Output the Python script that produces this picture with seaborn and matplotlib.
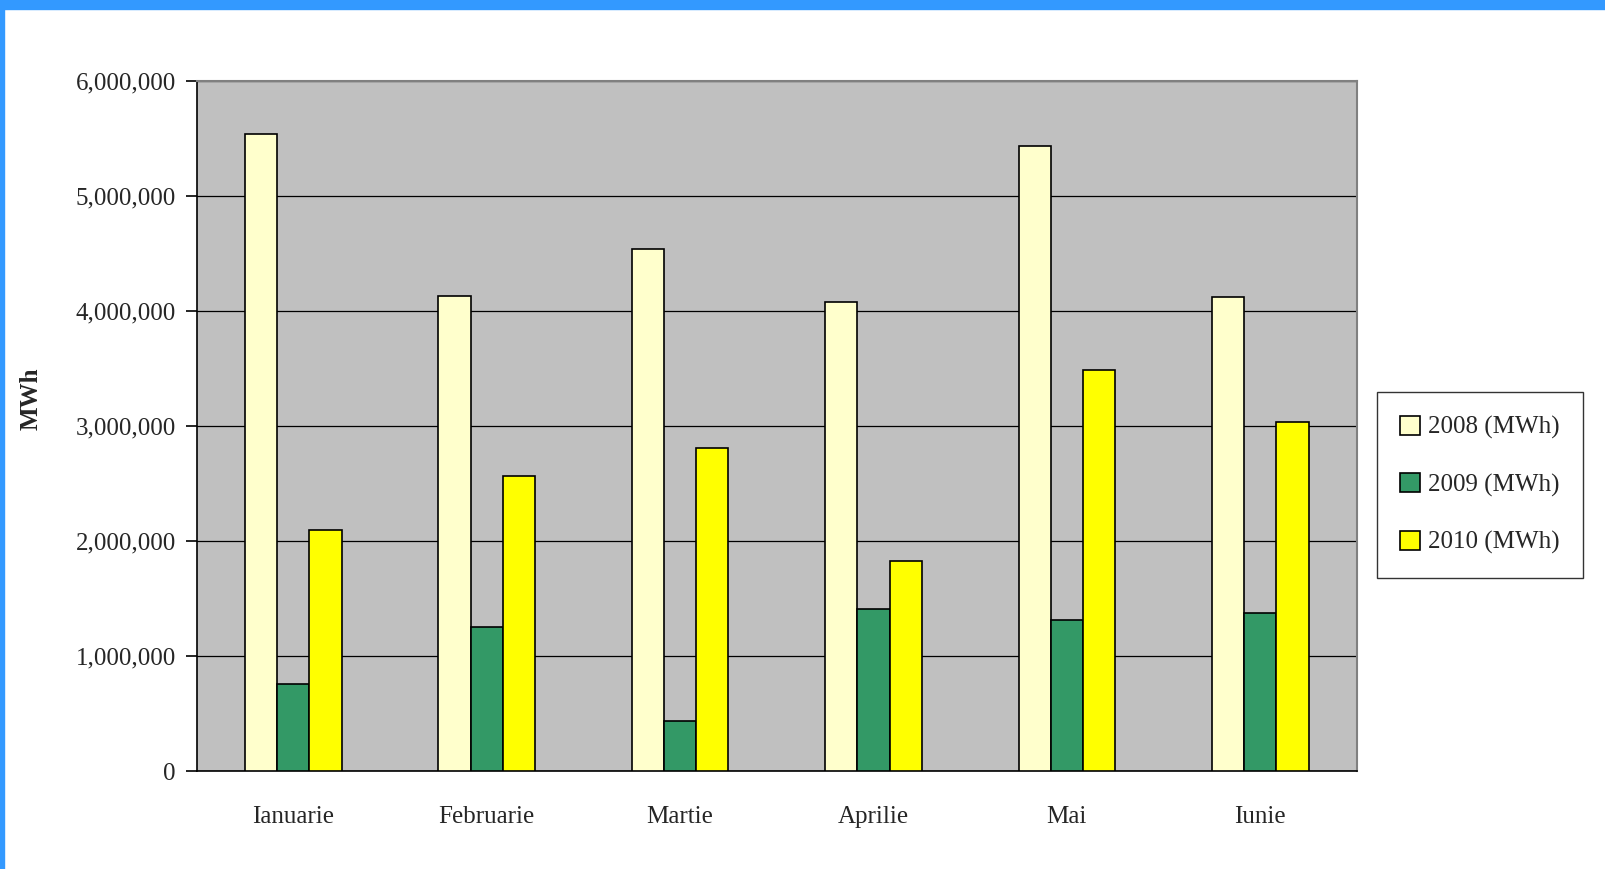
import pandas as pd
import matplotlib.pyplot as plt
import seaborn as sns
from matplotlib.patches import Rectangle
from matplotlib.ticker import FuncFormatter

months = ["Ianuarie", "Februarie", "Martie", "Aprilie", "Mai", "Iunie"]
series = ["2008 (MWh)", "2009 (MWh)", "2010 (MWh)"]
v2008 = [5537000, 4131000, 4540000, 4077000, 5439000, 4122000]
v2009 = [757000, 1255000, 436000, 1407000, 1309000, 1371000]
v2010 = [2092000, 2564000, 2813000, 1825000, 3490000, 3036000]
colors = ["#FFFFCC", "#339966", "#FFFF00"]

df = pd.DataFrame({"Luna": months, series[0]: v2008, series[1]: v2009, series[2]: v2010})
df_melted = df.melt(id_vars=["Luna"], value_vars=series, var_name="Serie", value_name="MWh")

sns.set_style("white")
plt.rcParams['font.family'] = ['Liberation Serif', 'DejaVu Serif']

fig = plt.figure(figsize=(16.05, 8.69), dpi=100)
ax = fig.add_axes([196.5 / 1605, 1 - 771 / 869, (1357 - 196.5) / 1605, (771 - 81) / 869])
ax.set_facecolor("#C0C0C0")

sns.barplot(data=df_melted, x="Luna", y="MWh", hue="Serie", palette=colors, saturation=1,
            width=0.5, edgecolor="black", linewidth=1.2, ax=ax, zorder=3)

ax.set_ylim(0, 6000000)
ax.set_xlim(-0.5, 5.5)
ax.set_yticks(range(0, 6000001, 1000000))
ax.yaxis.set_major_formatter(FuncFormatter(lambda v, p: f"{int(v):,}"))
ax.grid(axis="y", color="black", linewidth=0.9, zorder=1)
ax.set_axisbelow(True)

ax.set_xticks(range(6))
ax.set_xticklabels(months, fontsize=18)
ax.set_xticks([i - 0.5 for i in range(7)], minor=True)
ax.tick_params(axis="x", which="major", length=0, pad=25)
ax.tick_params(axis="x", which="minor", length=8, width=1.2, color="black")
ax.tick_params(axis="y", labelsize=18, length=8, width=1.2, color="black", left=True, pad=7)

ax.set_xlabel("")
ax.set_ylabel("MWh", fontsize=18, fontweight="bold")
ax.yaxis.set_label_coords(-0.133, 0.539)

for s in ["top", "right"]:
    ax.spines[s].set_color("#808080")
    ax.spines[s].set_linewidth(1.5)
for s in ["left", "bottom"]:
    ax.spines[s].set_color("black")
    ax.spines[s].set_linewidth(1.2)

handles, labels = ax.get_legend_handles_labels()
ax.legend(handles, labels, loc="center left", bbox_to_anchor=(1.017, 0.4145),
          fontsize=18, frameon=True, fancybox=False, edgecolor="black",
          handlelength=0.8, handleheight=0.8, handletextpad=0.3,
          labelspacing=1.35, borderpad=0.95, borderaxespad=0)
ax.get_legend().get_frame().set_linewidth(1.0)

# blue frame around the slide
fig.patches.append(Rectangle((0, 1 - 9 / 869), 1, 9 / 869, transform=fig.transFigure,
                             color="#3399FF", zorder=10))
fig.patches.append(Rectangle((0, 0), 4 / 1605, 1, transform=fig.transFigure,
                             color="#3399FF", zorder=10))

plt.savefig("out.png", dpi=100)
